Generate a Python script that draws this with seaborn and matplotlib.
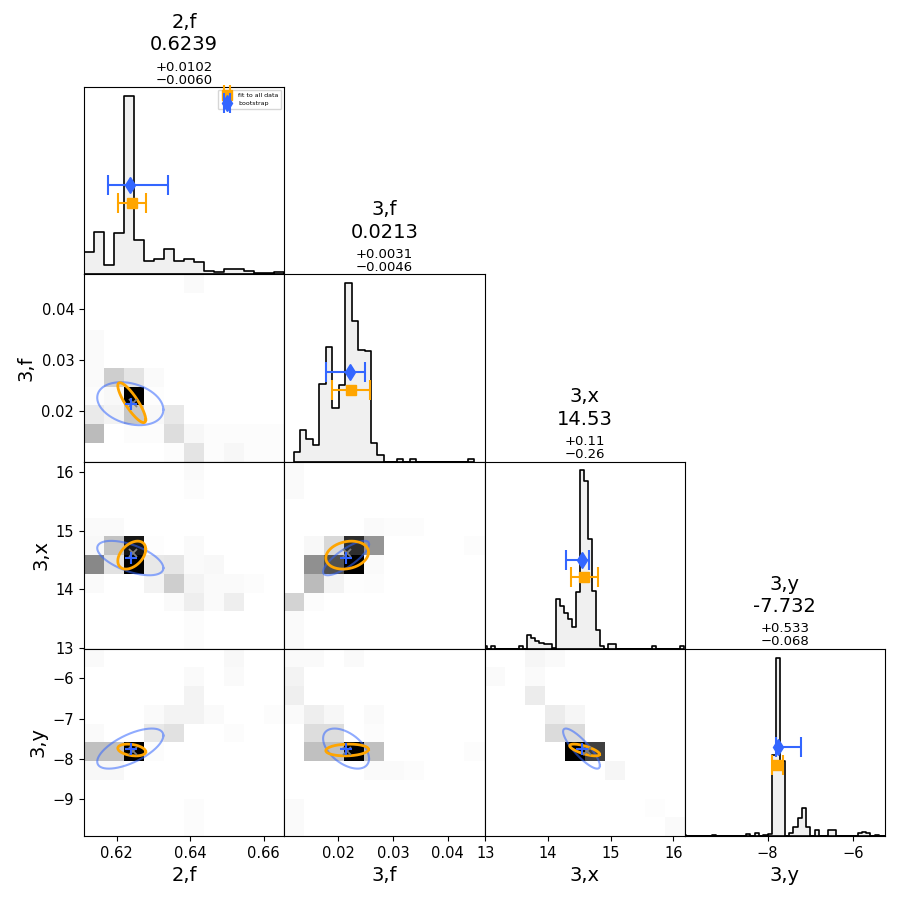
import numpy as np
import pandas as pd
import matplotlib
matplotlib.use("Agg")
import matplotlib.pyplot as plt
import seaborn as sns

# ---------------- data ----------------
param_names = ["2,f", "3,f", "3,x", "3,y"]
axis_limits = [(0.6111, 0.6656), (0.0101, 0.0467), (12.99, 16.18), (-9.93, -5.26)]
xtick_values = [[0.62, 0.64, 0.66], [0.02, 0.03, 0.04], [13, 14, 15, 16], [-8, -6]]
ytick_values = [[], [0.02, 0.03, 0.04], [13, 14, 15, 16], [-9, -8, -7, -6]]

title_median = ["0.6239", "0.0213", "14.53", "-7.732"]
title_plus = ["+0.0102", "+0.0031", "+0.11", "+0.533"]
title_minus = ["\u22120.0060", "\u22120.0046", "\u22120.26", "\u22120.068"]

# diagonal histograms: first bin edge, bin width, counts per bin
hist_start = [0.6111, 0.0118, 12.97, -10.0]
hist_width = [0.002725, 0.00118, 0.064, 0.1]
hist_counts_2f = [22.7, 42.7, 9.3, 41, 179, 34, 13.3, 15, 25.7, 13.3,
                  15, 12, 3.3, 2.3, 5.7, 5, 3.3, 1.3, 1, 2.7]
hist_counts_3f = [9.7, 31.7, 22.3, 16.3, 78, 115, 54, 76.3, 179, 140.7,
                  112.3, 111.3, 19, 6.7, 0, 0, 3, 0, 3, 0,
                  0, 0, 0, 0, 0, 0, 0, 3]
hist_counts_3x = [2.3, 0, 2.3, 0, 0, 0, 0, 0, 0, 2.3,
                  0, 14, 10.7, 7.3, 5.7, 5, 5, 1, 49, 42,
                  35, 30, 22, 56, 177, 166, 109, 57, 19, 2.3,
                  0, 4.7, 4.7, 0, 0, 0, 0, 0, 0, 0,
                  0, 0, 2.3, 0, 0, 0, 0, 0, 0, 2.3]
hist_counts_3y = [1, 0, 0, 0, 0, 0, 0, 1, 0, 0,
                  0, 0, 0, 0, 0, 1.7, 0, 2.7, 0, 1,
                  1.7, 81, 178, 75, 0, 2.7, 9, 18, 28, 9,
                  0, 6, 0, 0, 6, 6, 0, 0, 0, 0,
                  0, 2.7, 3.7, 2.7, 0, 1, 0, 0]
hist_counts = [hist_counts_2f, hist_counts_3f, hist_counts_3x, hist_counts_3y]

# error bars on the diagonal panels
fit_value = [0.62426, 0.02234, 14.58, -7.77]
fit_error = [0.00381, 0.00343, 0.22, 0.12]
boot_value = [0.62363, 0.02207, 14.538, -7.752]
boot_err_low = [0.0060, 0.00425, 0.255, 0.05]
boot_err_high = [0.01037, 0.00278, 0.112, 0.537]

# 2D panels: centres, ellipse half-extents and correlations
fit_point = [0.6244, 0.0216, 14.62, -7.81]
boot_point = [0.6238, 0.02143, 14.54, -7.76]
fit_center = [0.6241, 0.0216, 14.585, -7.785]
boot_center = [0.6237, 0.0214, 14.535, -7.75]
fit_half = [0.0038, 0.0039, 0.238, 0.147]
boot_half = [0.0090, 0.0042, 0.293, 0.50]
pairs = [(1, 0), (2, 0), (2, 1), (3, 0), (3, 1), (3, 2)]
fit_corr = [-0.85, 0.42, 0.2, -0.3, 0.1, -0.72]
boot_corr = [-0.28, -0.58, 0.8, 0.65, -0.5, -0.85]

# 2D histogram cell shades (rows top -> bottom, columns left -> right)
grid_3f_2f = [
    [0, 0, 0, 0, 0, .04, 0, 0, 0, 0],
    [0, 0, 0, 0, 0, 0, 0, 0, 0, 0],
    [0, 0, 0, 0, 0, 0, 0, 0, 0, 0],
    [.04, 0, 0, 0, 0, 0, 0, 0, 0, 0],
    [.04, 0, 0, 0, 0, 0, 0, 0, 0, 0],
    [.04, .3, .19, .04, 0, 0, 0, 0, 0, 0],
    [.03, .06, 1, .02, 0, 0, 0, 0, 0, 0],
    [.16, .1, .33, .06, .17, 0, 0, 0, 0, 0],
    [.38, 0, .03, .03, .23, .07, .03, .03, .03, .03],
    [0, 0, 0, 0, .03, .19, .03, .07, .03, .03],
]
grid_3x_2f = [
    [0, 0, 0, 0, 0, .04, 0, 0, 0, 0],
    [0, 0, 0, 0, 0, .03, 0, 0, 0, 0],
    [0, 0, 0, 0, 0, 0, 0, 0, 0, 0],
    [.04, .04, 0, 0, 0, 0, 0, 0, 0, 0],
    [.06, .35, .92, .02, 0, .04, 0, 0, 0, 0],
    [.55, .2, 1, .17, .18, .04, .06, 0, 0, 0],
    [.04, 0, 0, .1, .3, .1, .04, .04, .03, 0],
    [0, 0, 0, 0, .04, .14, .04, .14, 0, 0],
    [0, 0, 0, 0, 0, .03, 0, 0, 0, 0],
    [0, 0, 0, 0, 0, .03, 0, 0, 0, 0],
]
grid_3x_3f = [
    [.04, 0, 0, 0, 0, 0, 0, 0, 0, 0],
    [.04, 0, 0, 0, 0, 0, 0, 0, 0, 0],
    [0, 0, 0, 0, 0, 0, 0, 0, 0, 0],
    [0, 0, 0, 0, .04, .03, .03, 0, 0, 0],
    [0, .06, .25, .85, .5, 0, 0, 0, 0, .03],
    [0, .52, .75, 1, .04, 0, 0, 0, 0, 0],
    [0, .38, .1, .02, .03, 0, 0, 0, 0, 0],
    [.28, .03, 0, 0, 0, 0, 0, 0, 0, 0],
    [.04, 0, 0, 0, 0, 0, 0, 0, 0, 0],
    [.04, 0, 0, 0, 0, 0, 0, 0, 0, 0],
]
grid_3y_2f = [
    [.04, 0, 0, 0, 0, 0, 0, .06, 0, 0],
    [0, 0, 0, 0, 0, .04, 0, .04, 0, 0],
    [0, 0, 0, 0, 0, .1, 0, 0, 0, 0],
    [0, 0, 0, .04, .1, .1, .04, 0, 0, .03],
    [.04, 0, 0, .17, .21, 0, 0, .03, 0, 0],
    [.36, .36, 1, .03, 0, 0, 0, 0, 0, 0],
    [.06, .06, 0, 0, 0, 0, 0, 0, 0, 0],
    [0, 0, 0, 0, 0, 0, 0, 0, 0, 0],
    [0, 0, 0, 0, 0, .03, 0, 0, 0, 0],
    [0, 0, 0, 0, 0, .03, 0, 0, 0, 0],
]
grid_3y_3f = [
    [.04, .04, 0, .04, 0, 0, 0, 0, 0, 0],
    [.1, 0, 0, 0, 0, 0, 0, 0, 0, 0],
    [.13, 0, 0, 0, 0, 0, 0, 0, 0, 0],
    [.04, .14, .07, 0, .04, 0, 0, 0, 0, 0],
    [0, .23, .23, 0, .03, 0, 0, 0, 0, 0],
    [0, .36, .36, 1, .36, 0, 0, 0, 0, .03],
    [0, 0, 0, 0, .04, .04, .03, 0, 0, 0],
    [0, 0, 0, 0, 0, 0, 0, 0, 0, 0],
    [.04, 0, 0, 0, 0, 0, 0, 0, 0, 0],
    [.04, 0, 0, 0, 0, 0, 0, 0, 0, 0],
]
grid_3y_3x = [
    [0, 0, .08, .04, 0, 0, 0, 0, 0, 0],
    [.04, 0, .04, 0, 0, 0, 0, 0, 0, 0],
    [0, 0, .15, 0, 0, 0, 0, 0, 0, 0],
    [0, 0, 0, .15, .08, 0, 0, 0, 0, 0],
    [0, 0, 0, .24, .24, 0, 0, 0, 0, 0],
    [0, 0, 0, 0, 1, .8, 0, 0, 0, 0],
    [0, 0, 0, 0, 0, 0, .08, 0, 0, 0],
    [0, 0, 0, 0, 0, 0, 0, 0, 0, 0],
    [0, 0, 0, 0, 0, 0, 0, 0, .02, 0],
    [0, 0, 0, 0, 0, 0, 0, 0, 0, .04],
]
grids = [grid_3f_2f, grid_3x_2f, grid_3x_3f, grid_3y_2f, grid_3y_3f, grid_3y_3x]

# ---------------- styling ----------------
BLUE = "#3366ff"
ORANGE = "orange"
TICK_FS = 10.5
LABEL_FS = 14

fig, axes = plt.subplots(4, 4, figsize=(9, 9), dpi=100)
fig.subplots_adjust(left=84 / 900, right=885 / 900, bottom=1 - 836 / 900,
                    top=1 - 87 / 900, wspace=0, hspace=0)

for i in range(4):
    for j in range(4):
        if j > i:
            axes[i, j].set_axis_off()

t = np.linspace(0, 2 * np.pi, 300)

# ---------------- diagonal ----------------
for k in range(4):
    ax = axes[k, k]
    counts = np.asarray(hist_counts[k], float)
    edges = hist_start[k] + hist_width[k] * np.arange(len(counts) + 1)
    centers = 0.5 * (edges[:-1] + edges[1:])
    df = pd.DataFrame({"v": centers, "w": counts})
    sns.histplot(data=df, x="v", weights="w", bins=edges.tolist(), element="step",
                 fill=True, facecolor="#f0f0f0", edgecolor="black",
                 linewidth=1.2, ax=ax)
    ymax = counts.max()
    ax.errorbar(fit_value[k], 0.4 * ymax, xerr=fit_error[k], fmt="s",
                color=ORANGE, ms=7.5, capsize=7, elinewidth=1.5, capthick=1.5,
                label="fit to all data", zorder=5)
    ax.errorbar(boot_value[k], 0.5 * ymax,
                xerr=[[boot_err_low[k]], [boot_err_high[k]]], fmt="d",
                color=BLUE, ms=8, capsize=7, elinewidth=1.5, capthick=1.5,
                label="bootstrap", zorder=6)
    ax.set_xlim(*axis_limits[k])
    ax.set_ylim(0, 1.05 * ymax)
    ax.set_yticks([])
    ax.set_ylabel("")
    ax.set_xlabel("")
    if k < 3:
        ax.set_xticks([])
    else:
        ax.set_xticks(xtick_values[k])
        ax.tick_params(axis="x", labelsize=TICK_FS)
        ax.set_xlabel(param_names[k], fontsize=LABEL_FS)
    for txt, off, fs in [(param_names[k], 46.6, 14), (title_median[k], 30.4, 14),
                         (title_plus[k], 14.3, 9.5), (title_minus[k], 5.0, 9.5)]:
        ax.annotate(txt, xy=(0.5, 1.0), xycoords="axes fraction",
                    xytext=(0, off), textcoords="offset points",
                    ha="center", va="center", fontsize=fs)
    if k == 0:
        ax.legend(loc="upper right", fontsize=4.5)

# ---------------- lower triangle ----------------
for n, (i, j) in enumerate(pairs):
    ax = axes[i, j]
    grid = np.asarray(grids[n], float)
    xlo, xhi = axis_limits[j]
    ylo, yhi = axis_limits[i]
    xe = np.linspace(xlo, xhi, grid.shape[1] + 1)
    ye = np.linspace(ylo, yhi, grid.shape[0] + 1)
    xc = 0.5 * (xe[:-1] + xe[1:])
    yc = (0.5 * (ye[:-1] + ye[1:]))[::-1]
    X, Y = np.meshgrid(xc, yc)
    df = pd.DataFrame({"x": X.ravel(), "y": Y.ravel(), "w": grid.ravel()})
    sns.histplot(data=df, x="x", y="y", weights="w", bins=[xe.tolist(), ye.tolist()],
                 cmap="Greys", vmax=1.0, ax=ax)

    # covariance ellipses
    for center, half, corr, color, lw, alpha, z in [
        (boot_center, boot_half, boot_corr[n], BLUE, 1.5, 0.55, 3),
        (fit_center, fit_half, fit_corr[n], ORANGE, 2.0, 1.0, 4),
    ]:
        ex = center[j] + half[j] * np.cos(t)
        ey = center[i] + half[i] * (corr * np.cos(t) + np.sqrt(1 - corr ** 2) * np.sin(t))
        ax.plot(ex, ey, color=color, lw=lw, alpha=alpha, zorder=z)
    ax.plot(fit_point[j], fit_point[i], "x", color="grey", ms=6, mew=1.3, zorder=5)
    ax.plot(boot_point[j], boot_point[i], "+", color=BLUE, ms=8, mew=1.5, zorder=6)

    ax.set_xlim(xlo, xhi)
    ax.set_ylim(ylo, yhi)
    ax.set_xlabel("")
    ax.set_ylabel("")
    if i == 3:
        ax.set_xticks(xtick_values[j])
        ax.tick_params(axis="x", labelsize=TICK_FS)
        ax.set_xlabel(param_names[j], fontsize=LABEL_FS)
    else:
        ax.set_xticks([])
    if j == 0:
        ax.set_yticks(ytick_values[i])
        ax.tick_params(axis="y", labelsize=TICK_FS)
        ax.set_ylabel(param_names[i], fontsize=LABEL_FS)
    else:
        ax.set_yticks([])

for ax in axes.flat:
    for s in ax.spines.values():
        s.set_color("black")

fig.savefig("out.png", dpi=100)
